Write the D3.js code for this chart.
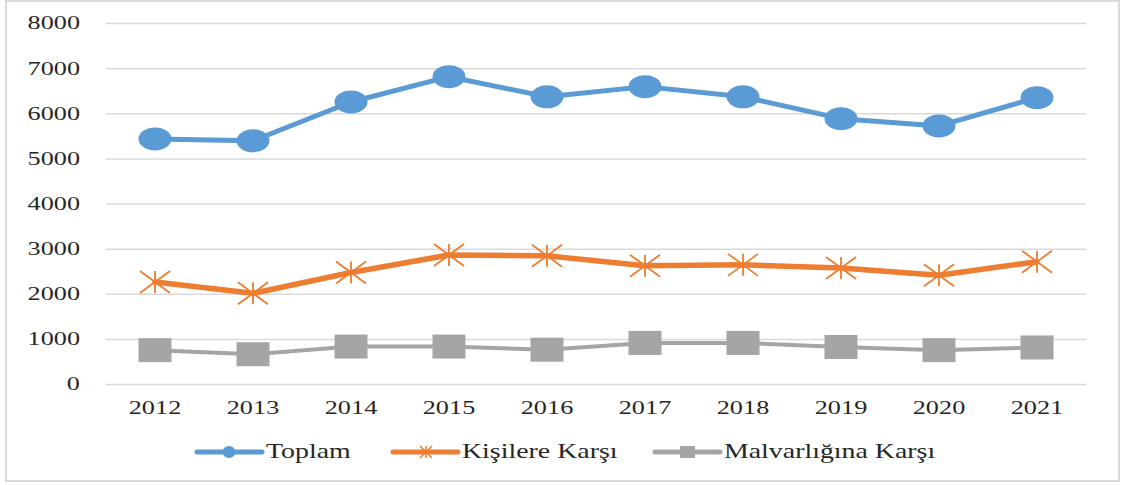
<!DOCTYPE html>
<html>
<head>
<meta charset="utf-8">
<script src="https://cdn.jsdelivr.net/npm/d3@7"></script>
<style>
  body { margin: 0; background: #fff; }
  svg { display: block; }
  text { font-family: "Liberation Serif", "Times New Roman", serif; fill: #262626; }
</style>
</head>
<body>
<svg id="chart"></svg>
<script>
// chart data
const years = ['2012', '2013', '2014', '2015', '2016', '2017', '2018', '2019', '2020', '2021'];
const toplam = [5430, 5390, 6250, 6810, 6365, 6590, 6365, 5880, 5720, 6345];
const kisilere = [2260, 2010, 2470, 2860, 2840, 2620, 2640, 2570, 2410, 2710];
const malvarligi = [750, 660, 830, 830, 760, 910, 910, 820, 750, 810];
const yTicks = [0, 1000, 2000, 3000, 4000, 5000, 6000, 7000, 8000];
const seriesNames = ['Toplam', 'Kişilere Karşı', 'Malvarlığına Karşı'];

const W = 1123, H = 485;
const margin = {left: 106, right: 37, top: 23, bottom: 101};
const tickStretch = 1.42, legStretch = 1.36;

const svg = d3.select('#chart').attr('width', W).attr('height', H);

// outer frame
svg.append('rect')
  .attr('x', 6).attr('y', 1).attr('width', 1113).attr('height', 480)
  .attr('fill', 'none').attr('stroke', '#d9d9d9').attr('stroke-width', 2);

const x = d3.scaleBand().domain(years).range([margin.left, W - margin.right]);
const y = d3.scaleLinear().domain([0, 8000]).range([H - margin.bottom, margin.top]);
const cx = d => x(d) + x.bandwidth() / 2;

// grid + y labels
const yAxis = svg.append('g')
  .attr('transform', `translate(${margin.left},0)`)
  .call(d3.axisLeft(y).tickValues(yTicks).tickFormat(d3.format('d'))
    .tickSize(-(W - margin.left - margin.right)).tickPadding(0));
yAxis.attr('font-family', null).attr('font-size', null);
yAxis.select('.domain').remove();
yAxis.selectAll('line').attr('stroke', '#d9d9d9').attr('stroke-width', 1.5);
yAxis.selectAll('text')
  .attr('x', -26 / tickStretch)
  .attr('transform', `scale(${tickStretch},1)`)
  .style('font-size', '18.5px')
  .attr('fill', '#262626');

// x labels
const xAxis = svg.append('g')
  .attr('transform', `translate(0,${H - margin.bottom})`)
  .call(d3.axisBottom(x).tickSize(0).tickPadding(0));
xAxis.attr('font-family', null).attr('font-size', null);
xAxis.select('.domain').remove();
xAxis.selectAll('text')
  .attr('dy', null).attr('y', 30)
  .attr('transform', `scale(${tickStretch},1)`)
  .style('font-size', '18.5px')
  .attr('fill', '#262626');

const line = d3.line().x((d, i) => cx(years[i])).y(d => y(d));

function drawLine(vals, color, width) {
  svg.append('path').datum(vals)
    .attr('d', line)
    .attr('fill', 'none').attr('stroke', color).attr('stroke-width', width)
    .attr('stroke-linejoin', 'round').attr('stroke-linecap', 'round');
}

const starPath = (w, h) => `M0,${-h}L0,${h}M${-w},${-h}L${w},${h}M${-w},${h}L${w},${-h}`;

// gray
drawLine(malvarligi, '#a5a5a5', 4);
svg.append('g').selectAll('rect').data(malvarligi).join('rect')
  .attr('x', (d, i) => cx(years[i]) - 16.5).attr('y', d => y(d) - 12)
  .attr('width', 33).attr('height', 24).attr('fill', '#a5a5a5');

// orange
drawLine(kisilere, '#ed7d31', 5.5);
svg.append('g').selectAll('path').data(kisilere).join('path')
  .attr('transform', (d, i) => `translate(${cx(years[i])},${y(d)})`)
  .attr('d', starPath(15, 11))
  .attr('fill', 'none').attr('stroke', '#ed7d31').attr('stroke-width', 1.8);

// blue
drawLine(toplam, '#5b9bd5', 5);
svg.append('g').selectAll('ellipse').data(toplam).join('ellipse')
  .attr('cx', (d, i) => cx(years[i])).attr('cy', d => y(d))
  .attr('rx', 16.5).attr('ry', 11.5).attr('fill', '#5b9bd5');

// legend
const legendX = [197, 393, 655];
const legColors = ['#5b9bd5', '#ed7d31', '#a5a5a5'];
const legY = 452;
const leg = svg.append('g').selectAll('g').data(seriesNames).join('g')
  .attr('transform', (d, i) => `translate(${legendX[i]},${legY})`);
leg.append('line')
  .attr('x1', 0).attr('x2', 65).attr('y1', 0).attr('y2', 0)
  .attr('stroke', (d, i) => legColors[i]).attr('stroke-width', 5).attr('stroke-linecap', 'round');
leg.each(function (d, i) {
  const g = d3.select(this);
  if (i === 0) {
    g.append('ellipse').attr('cx', 32).attr('cy', 0).attr('rx', 6.5).attr('ry', 6).attr('fill', legColors[i]);
  } else if (i === 1) {
    g.append('path').attr('transform', 'translate(33,0)').attr('d', starPath(6, 6))
      .attr('fill', 'none').attr('stroke', legColors[i]).attr('stroke-width', 1.5);
  } else {
    g.append('rect').attr('x', 25).attr('y', -6).attr('width', 15).attr('height', 12).attr('fill', legColors[i]);
  }
});
leg.append('text')
  .attr('x', 69 / legStretch).attr('y', 6)
  .attr('transform', `scale(${legStretch},1)`)
  .style('font-size', '20.5px')
  .text(d => d);
</script>
</body>
</html>
